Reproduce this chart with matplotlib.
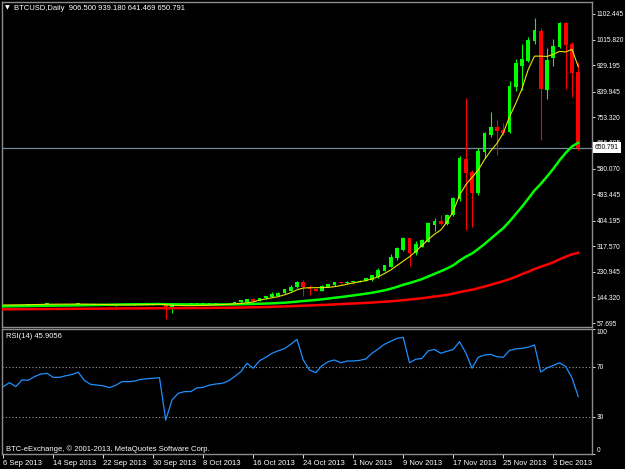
import matplotlib
matplotlib.use('Agg')
import matplotlib.pyplot as plt
import numpy as np

# daily bars, 6 Sep 2013 .. 7 Dec 2013
opens = [115.0, 116.0, 118.0, 116.5, 119.0, 119.0, 120.5, 122.0, 122.2, 120.5,
         120.5, 121.0, 121.8, 123.0, 120.0, 118.5, 118.2, 118.0, 117.5, 118.0,
         119.5, 119.6, 119.8, 120.6, 121.0, 121.4, 123.0, 108.0, 118.0, 120.5,
         121.2, 121.2, 122.5, 122.8, 123.5, 124.0, 124.3, 125.0, 128.0, 130.0,
         140.0, 132.0, 141.0, 146.0, 150.0, 159.0, 167.0, 179.0, 197.0, 180.0,
         172.6, 167.0, 180.0, 185.0, 196.0, 192.0, 195.0, 197.0, 200.0, 203.0,
         212.0, 234.0, 248.0, 276.0, 304.0, 344.0, 293.0, 316.0, 333.0, 389.0,
         404.0, 392.0, 423.0, 476.0, 611.0, 568.0, 497.0, 637.0, 693.0, 721.0,
         710.0, 705.0, 857.0, 927.0, 944.0, 1012.0, 1046.0, 845.0, 952.0, 992.0,
         1073.0, 1001.0, 906.5]
highs = [117.0, 119.0, 118.8, 119.8, 120.0, 121.2, 122.8, 123.0, 123.0, 121.5,
         121.8, 122.5, 123.8, 123.6, 120.8, 119.2, 119.0, 118.8, 118.8, 120.2,
         120.4, 120.5, 121.4, 121.8, 122.0, 122.8, 123.5, 120.0, 121.5, 122.0,
         122.0, 123.2, 123.6, 124.2, 124.8, 125.0, 125.8, 129.5, 135.5, 139.5,
         143.0, 143.0, 149.5, 161.0, 161.0, 173.5, 186.0, 199.0, 203.0, 186.0,
         174.0, 185.5, 190.0, 197.5, 198.0, 198.5, 200.5, 202.0, 211.0, 221.0,
         245.0, 255.0, 290.0, 316.0, 350.0, 346.0, 334.0, 341.0, 398.0, 414.0,
         422.0, 426.0, 483.0, 621.0, 820.0, 575.0, 650.0, 705.0, 772.0, 744.0,
         735.0, 876.0, 949.0, 1000.0, 1025.0, 1090.0, 1054.0, 986.0, 1017.0, 1076.0,
         1076.0, 1009.0, 939.18]
lows = [114.0, 115.0, 115.8, 115.8, 118.2, 118.2, 119.8, 121.2, 119.8, 119.5,
        119.8, 120.2, 121.0, 119.2, 117.6, 117.5, 117.2, 116.8, 116.8, 117.2,
        118.8, 118.8, 119.0, 119.8, 120.2, 120.6, 72.0, 90.0, 117.0, 119.6,
        120.2, 120.4, 121.6, 122.0, 122.8, 123.2, 123.5, 124.2, 127.0, 129.0,
        130.0, 131.0, 140.0, 145.0, 149.0, 157.0, 165.0, 177.0, 149.0, 152.0,
        165.5, 165.5, 178.0, 183.5, 190.5, 190.5, 193.5, 195.5, 198.5, 201.0,
        210.0, 232.0, 246.0, 270.0, 302.0, 250.0, 288.0, 314.0, 330.0, 368.0,
        388.0, 390.0, 420.0, 470.0, 372.0, 382.0, 490.0, 615.0, 688.0, 626.0,
        695.0, 700.0, 842.0, 846.0, 940.0, 1000.0, 676.0, 815.0, 927.0, 988.0,
        848.0, 823.0, 641.469]
closes = [116.0, 118.0, 116.5, 119.0, 119.0, 120.5, 122.0, 122.2, 120.5, 120.5,
          121.0, 121.8, 123.0, 120.0, 118.5, 118.2, 118.0, 117.5, 118.0, 119.5,
          119.6, 119.8, 120.6, 121.0, 121.4, 122.0, 108.0, 118.0, 120.5, 121.2,
          121.2, 122.5, 122.8, 123.5, 124.0, 124.3, 125.0, 128.5, 134.0, 138.5,
          131.0, 142.0, 148.0, 156.0, 160.0, 172.0, 180.0, 197.0, 178.0, 172.0,
          167.0, 184.0, 188.5, 196.0, 192.0, 197.0, 199.0, 200.5, 209.0, 219.0,
          237.0, 253.0, 282.0, 310.0, 344.0, 293.0, 324.0, 338.0, 395.0, 404.0,
          392.0, 423.0, 479.0, 614.0, 564.0, 498.0, 640.0, 699.0, 721.0, 708.0,
          700.0, 859.0, 938.0, 949.0, 1014.0, 1048.0, 848.0, 947.0, 994.0, 1073.0,
          998.0, 904.0, 650.791]

# moving averages as drawn (yellow fast, green medium, red slow)
ma_fast = [118.5, 118.8, 119.0, 119.3, 119.6, 120.0, 120.5, 121.0, 121.2, 121.4,
           121.5, 121.6, 121.8, 121.5, 121.2, 120.8, 120.4, 119.8, 119.2, 118.8,
           118.8, 119.0, 119.4, 119.8, 120.2, 120.8, 119.5, 118.0, 117.0, 116.5,
           116.5, 116.8, 117.2, 118.0, 119.0, 120.0, 121.0, 122.5, 124.0, 126.0,
           129.0, 135.0, 139.0, 143.0, 147.0, 153.0, 160.0, 170.0, 176.0, 177.0,
           177.0, 177.5, 178.0, 180.6, 184.0, 189.0, 193.0, 197.0, 201.0, 207.0,
           214.0, 225.0, 237.0, 252.0, 267.0, 282.0, 300.0, 320.0, 340.0, 358.0,
           372.0, 400.0, 435.0, 490.0, 525.0, 550.0, 575.0, 610.0, 640.0, 665.0,
           700.0, 755.0, 800.0, 850.0, 915.0, 960.0, 960.0, 959.0, 966.0, 976.0,
           974.0, 983.0, 924.0]
ma_mid = [114.0, 114.3, 114.6, 114.9, 115.2, 115.5, 115.8, 116.1, 116.4, 116.7,
          117.0, 117.3, 117.6, 118.0, 118.4, 118.8, 119.2, 119.6, 120.0, 120.4,
          120.7, 121.0, 121.2, 121.4, 121.6, 121.8, 121.3, 121.0, 120.8, 120.6,
          120.4, 120.3, 120.2, 120.2, 120.2, 120.3, 120.5, 120.8, 121.2, 121.7,
          122.2, 122.8, 123.5, 124.3, 125.2, 126.4, 128.0, 130.0, 132.0, 133.8,
          135.6, 137.8, 140.3, 143.0, 145.5, 148.0, 151.0, 153.8, 156.8, 160.0,
          164.0, 168.3, 173.6, 179.8, 187.1, 192.7, 199.3, 206.3, 215.0, 223.9,
          232.6, 242.0, 253.0, 268.3, 281.8, 292.7, 308.0, 324.7, 342.8, 360.7,
          378.5, 401.0, 426.0, 451.0, 478.0, 506.0, 528.0, 553.0, 579.0, 607.6,
          633.0, 654.7, 667.0]
ma_slow = [104.0, 104.1, 104.3, 104.4, 104.6, 104.7, 104.9, 105.0, 105.2, 105.3,
           105.5, 105.6, 105.8, 105.9, 106.1, 106.2, 106.4, 106.5, 106.7, 106.8,
           107.0, 107.1, 107.3, 107.4, 107.6, 107.7, 107.7, 107.8, 108.0, 108.1,
           108.3, 108.4, 108.6, 108.8, 109.0, 109.2, 109.4, 109.7, 110.0, 110.4,
           110.8, 111.3, 111.8, 112.4, 113.0, 113.7, 114.5, 115.4, 116.2, 117.0,
           117.8, 118.7, 119.6, 120.6, 121.6, 122.6, 123.6, 124.7, 125.8, 127.0,
           128.3, 129.6, 131.2, 133.0, 135.1, 137.0, 139.2, 141.5, 144.3, 147.1,
           149.9, 153.0, 157.0, 162.0, 166.5, 170.0, 175.5, 181.0, 187.0, 193.0,
           199.0, 206.0, 214.0, 223.0, 231.0, 240.0, 248.0, 255.0, 263.0, 273.0,
           282.0, 290.0, 295.0]

rsi = [53.9, 57.1, 53.9, 59.2, 59.0, 61.9, 64.0, 64.5, 61.3, 61.3,
       62.6, 63.6, 65.4, 58.7, 55.7, 55.1, 54.5, 53.1, 55.0, 57.9,
       57.9, 58.3, 59.7, 60.2, 60.6, 61.0, 27.2, 43.2, 48.6, 49.9,
       49.9, 52.9, 53.4, 55.1, 56.0, 56.5, 58.4, 61.9, 65.8, 72.5,
       68.6, 74.6, 77.4, 80.6, 82.6, 84.3, 87.8, 91.7, 75.2, 67.2,
       65.1, 70.7, 73.9, 75.2, 73.0, 74.4, 74.4, 74.9, 76.0, 80.6,
       84.1, 87.8, 90.2, 92.5, 93.3, 73.0, 75.8, 76.5, 82.6, 83.6,
       80.6, 82.2, 83.6, 89.8, 81.0, 68.6, 77.4, 79.2, 79.7, 77.8,
       77.4, 82.9, 84.1, 84.5, 85.5, 87.2, 65.6, 68.9, 70.8, 73.0,
       69.9, 60.9, 45.9056]

date_labels = ['6 Sep 2013', '14 Sep 2013', '22 Sep 2013', '30 Sep 2013',
               '8 Oct 2013', '16 Oct 2013', '24 Oct 2013', '1 Nov 2013',
               '9 Nov 2013', '17 Nov 2013', '25 Nov 2013', '3 Dec 2013']
price_ticks = [1102.445, 1015.820, 929.195, 839.945, 753.320, 666.695, 580.070,
               493.445, 404.195, 317.570, 230.945, 144.320, 57.695]
rsi_levels = [30, 70]

FONT = ['Liberation Sans', 'DejaVu Sans']
plt.rcParams['font.family'] = FONT
plt.rcParams['font.size'] = 5.5
frame = '#8c8c8c'
AXFS = 4.8  # right-hand scale labels are a bit narrower

W, H = 625, 469
fig = plt.figure(figsize=(W / 100, H / 100), dpi=100, facecolor='black')
ax = fig.add_axes([2 / W, 1 - 327 / H, 590 / W, 325 / H], facecolor='black')
rax = fig.add_axes([2 / W, 1 - 454 / H, 590 / W, 125 / H], facecolor='black', sharex=ax)

o = np.array(opens)
h = np.array(highs)
l = np.array(lows)
c = np.array(closes)
idx = np.arange(len(c))
up = c >= o
col = np.where(up, '#00ff00', '#ff0000')

# bid line
ax.axhline(c[-1], color='#778899', lw=0.9, zorder=1)

# candles
ax.vlines(idx, l, h, colors=col, lw=0.8, zorder=2)
body_lo = np.minimum(o, c)
body_h = np.maximum(np.abs(c - o), 2.5)
ax.bar(idx, body_h, bottom=body_lo, width=0.62, color=col, linewidth=0, zorder=3)

# moving averages
ax.plot(idx, ma_slow, color='#ff0000', lw=1.8, zorder=4)
ax.plot(idx, ma_mid, color='#00ff00', lw=1.8, zorder=4)
ax.plot(idx, ma_fast, color='#e6e600', lw=0.8, zorder=5)

ax.set_xlim(-0.2, 94.2)
ax.set_ylim(44.2, 1143)
ax.yaxis.tick_right()
ax.set_yticks(price_ticks)
ax.set_yticklabels([f'{v:.3f}' for v in price_ticks], fontsize=AXFS)
ax.tick_params(axis='y', colors='white', length=2, width=0.6, pad=1.5)
ax.tick_params(axis='x', bottom=False, labelbottom=False)
for s in ax.spines.values():
    s.set_color(frame)
    s.set_linewidth(1.0)

ax.annotate(f'{c[-1]:.3f}', xy=(1.0, c[-1]), xycoords=('axes fraction', 'data'),
            xytext=(2.2, 0), textcoords='offset points', va='center', ha='left',
            color='black', fontsize=AXFS, annotation_clip=False, zorder=10,
            bbox=dict(facecolor='white', edgecolor='none', pad=1.2))

fig.text(5 / W, 1 - 8 / H, '\u25bc', color='white', fontsize=4.5, va='center',
         family=['DejaVu Sans'])
fig.text(14 / W, 1 - 8 / H,
         f'BTCUSD,Daily  {o[-1]:.3f} {h[-1]:.3f} {l[-1]:.3f} {c[-1]:.3f}',
         color='white', va='center')

# RSI panel
for lv in rsi_levels:
    rax.axhline(lv, color='#a0a0a0', lw=0.8, ls=(0, (1, 2)), zorder=1)
rax.plot(idx, rsi, color='#1e90ff', lw=0.9, zorder=2)
rax.set_ylim(0, 100)
rax.yaxis.tick_right()
rax.set_yticks([0, 30, 70, 100])
rax.set_yticklabels(['0', '30', '70', '100'], fontsize=AXFS)
rax.tick_params(axis='y', colors='white', length=2, width=0.6, pad=1.5)
ylabs = rax.get_yticklabels()
ylabs[0].set_va('bottom')
ylabs[-1].set_va('top')

rax.set_xticks(np.arange(0, 8 * len(date_labels), 8))
rax.set_xticklabels(date_labels)
for t in rax.get_xticklabels():
    t.set_ha('left')
rax.tick_params(axis='x', colors='white', length=3, width=0.6, pad=1.5)
for s in rax.spines.values():
    s.set_color(frame)
    s.set_linewidth(1.0)

rax.text(0.006, 0.936, f'RSI(14) {rsi[-1]:.4f}', transform=rax.transAxes,
         color='white', va='center')
rax.text(0.006, 0.04, 'BTC-eExchange, \u00a9 2001-2013, MetaQuotes Software Corp.',
         transform=rax.transAxes, color='white', va='center')

fig.savefig('out.png', dpi=100, facecolor='black')
